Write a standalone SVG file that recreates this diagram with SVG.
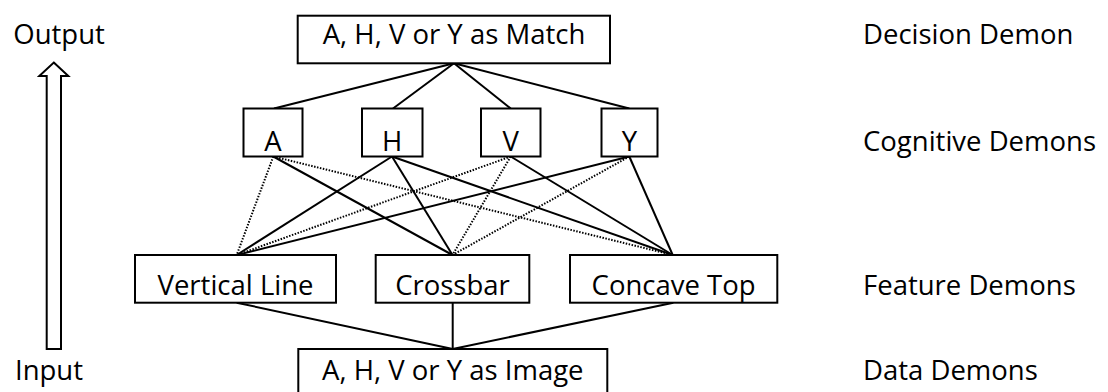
<svg xmlns="http://www.w3.org/2000/svg" width="1108" height="392" viewBox="0 0 1108 392">
<style>
text{font-family:"Open Sans","Liberation Sans",sans-serif;font-size:27.5px;fill:#000}
.c{text-anchor:middle}
.box{fill:#fff;stroke:#000;stroke-width:2}
.s{stroke:#000;stroke-width:2;fill:none}
.d{stroke:#000;stroke-width:2;fill:none;stroke-dasharray:1.5 1.5}
</style>
<rect width="1108" height="392" fill="#fff"/>
<g id="connectors">
<line class="s" x1="454" y1="63.3" x2="274" y2="108.5"/>
<line class="s" x1="454" y1="63.3" x2="393" y2="108.5"/>
<line class="s" x1="454" y1="63.3" x2="510.7" y2="108.5"/>
<line class="s" x1="454" y1="63.3" x2="629.3" y2="108.5"/>
<line class="d" x1="273.3" y1="156.5" x2="236.7" y2="255"/>
<line class="s" x1="273.3" y1="156.5" x2="452.5" y2="255"/>
<line class="d" x1="273.3" y1="156.5" x2="672.7" y2="255"/>
<line class="s" x1="392" y1="156.5" x2="236.7" y2="255"/>
<line class="s" x1="392" y1="156.5" x2="452.5" y2="255"/>
<line class="s" x1="392" y1="156.5" x2="672.7" y2="255"/>
<line class="d" x1="510.7" y1="156.5" x2="236.7" y2="255"/>
<line class="d" x1="510.7" y1="156.5" x2="452.5" y2="255"/>
<line class="s" x1="510.7" y1="156.5" x2="672.7" y2="255"/>
<line class="s" x1="629.3" y1="156.5" x2="236.7" y2="255"/>
<line class="d" x1="629.3" y1="156.5" x2="452.5" y2="255"/>
<line class="s" x1="629.3" y1="156.5" x2="672.7" y2="255"/>
<line class="s" x1="236.7" y1="302.7" x2="452.7" y2="349"/>
<line class="s" x1="452.7" y1="302.7" x2="452.7" y2="349"/>
<line class="s" x1="673.3" y1="302.7" x2="452.7" y2="349"/>
</g>
<g id="arrow">
<polygon points="53.8,62.5 68.3,76 61,76 61,349 46.7,349 46.7,76 39.3,76" fill="#fff" stroke="#000" stroke-width="2"/>
</g>
<g id="side-labels">
<text x="13.3" y="44">Output</text>
<text x="15" y="380">Input</text>
<text x="863" y="44">Decision Demon</text>
<text x="863" y="150.5">Cognitive Demons</text>
<text x="863" y="295">Feature Demons</text>
<text x="863" y="380">Data Demons</text>
</g>
<g id="decision">
<rect class="box" x="297.7" y="15.7" width="312.3" height="47.6"/>
<text class="c" x="454" y="44">A, H, V or Y as Match</text>
</g>
<g id="cog-A">
<rect class="box" x="243.5" y="108.5" width="59" height="48"/>
<text class="c" x="273" y="150.5">A</text>
</g>
<g id="cog-H">
<rect class="box" x="362" y="108.5" width="60.5" height="48"/>
<text class="c" x="392.2" y="150.5">H</text>
</g>
<g id="cog-V">
<rect class="box" x="481" y="108.5" width="59.5" height="48"/>
<text class="c" x="510.7" y="150.5">V</text>
</g>
<g id="cog-Y">
<rect class="box" x="601.5" y="108.5" width="56" height="48"/>
<text class="c" x="629.5" y="150.5">Y</text>
</g>
<g id="feat-vertical">
<rect class="box" x="135" y="255" width="201" height="47.7"/>
<text class="c" x="235.5" y="295">Vertical Line</text>
</g>
<g id="feat-crossbar">
<rect class="box" x="375.7" y="255" width="153.6" height="47.7"/>
<text class="c" x="452.5" y="295">Crossbar</text>
</g>
<g id="feat-concave">
<rect class="box" x="570" y="255" width="207.3" height="47.7"/>
<text class="c" x="673.6" y="295">Concave Top</text>
</g>
<g id="data">
<rect class="box" x="298.3" y="349" width="309" height="60"/>
<text class="c" x="452.8" y="380">A, H, V or Y as Image</text>
</g>
</svg>
